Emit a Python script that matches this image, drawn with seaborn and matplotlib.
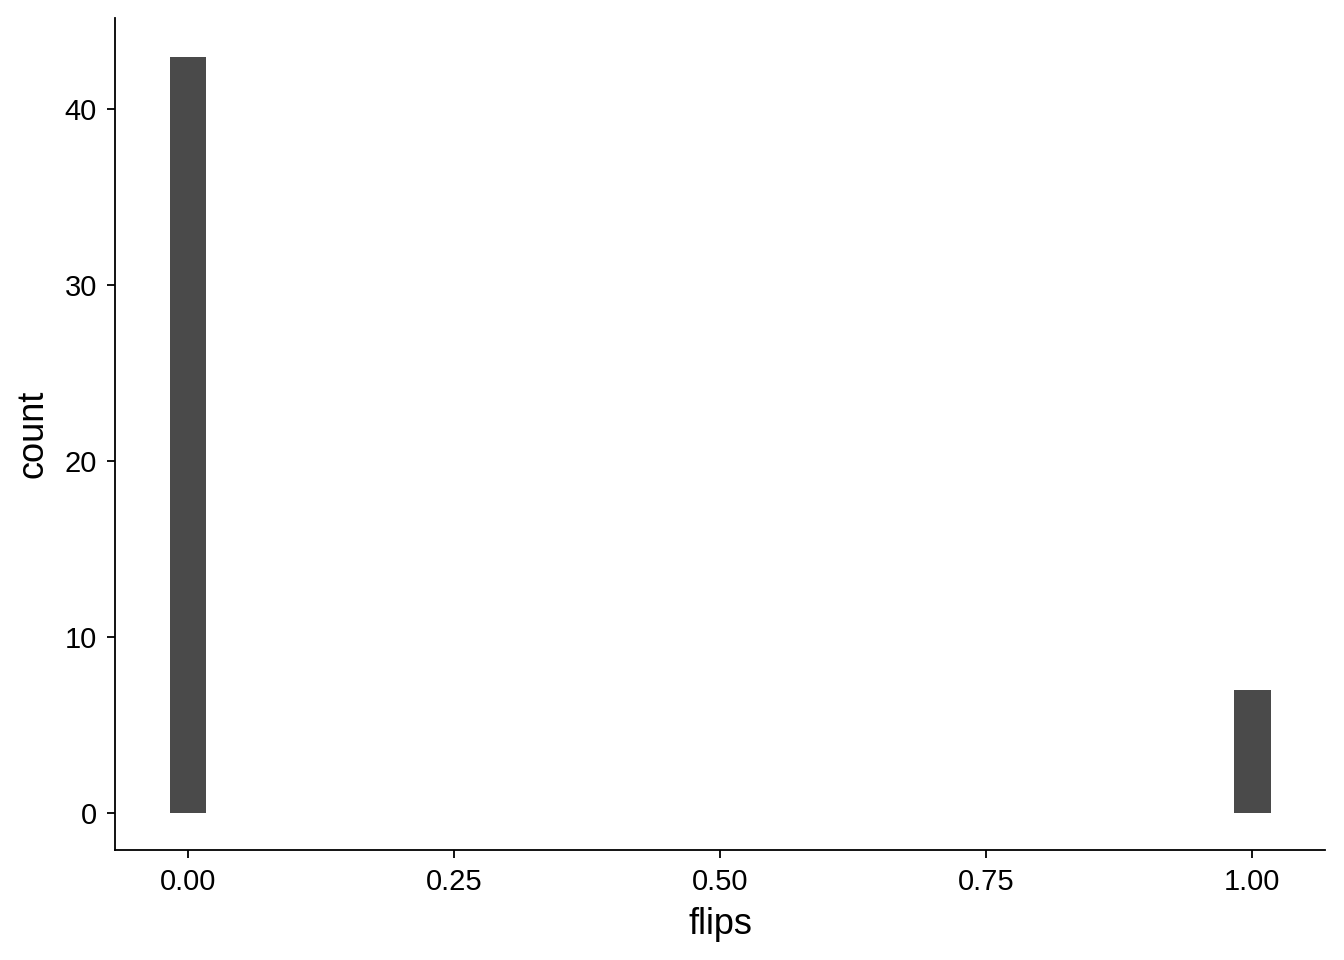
import numpy as np
import pandas as pd
import matplotlib
matplotlib.use("Agg")
import matplotlib.pyplot as plt
import seaborn as sns

# data: coin flip outcomes (43 zeros, 7 ones)
flip_values = [0, 1]
flip_counts = [43, 7]
flips = np.repeat(flip_values, flip_counts)
df = pd.DataFrame({"flips": flips})

sns.set_style("ticks")
plt.rcParams["font.family"] = ["Liberation Sans", "DejaVu Sans"]

fig = plt.figure(figsize=(13.44, 9.6), dpi=100)
ax = fig.add_axes([0.0856, 0.1146, 0.9004, 0.8667])

# ggplot-style 30 bins centred on the range ends
half = 1 / 58
sns.histplot(data=df, x="flips", bins=30, binrange=(-half, 1 + half),
             color="#4a4a4a", alpha=1, edgecolor="none", linewidth=0, ax=ax)

ax.set_xlim(-0.0686, 1.0686)
ax.set_ylim(-2.12, 45.2)
ax.set_xticks([0, 0.25, 0.5, 0.75, 1.0])
ax.set_xticklabels(["0.00", "0.25", "0.50", "0.75", "1.00"])
ax.set_yticks([0, 10, 20, 30, 40])
ax.tick_params(labelsize=21, colors="black", length=6, width=1.3,
               labelcolor="black")
ax.tick_params(axis="x", pad=7)
ax.tick_params(axis="y", pad=7)
ax.set_xlabel("flips", fontsize=26, labelpad=8, color="black")
ax.set_ylabel("count", fontsize=26, labelpad=10, color="black")
for s in ["top", "right"]:
    ax.spines[s].set_visible(False)
for s in ["left", "bottom"]:
    ax.spines[s].set_linewidth(1.3)
    ax.spines[s].set_color("black")

fig.savefig("out.png", dpi=100)
